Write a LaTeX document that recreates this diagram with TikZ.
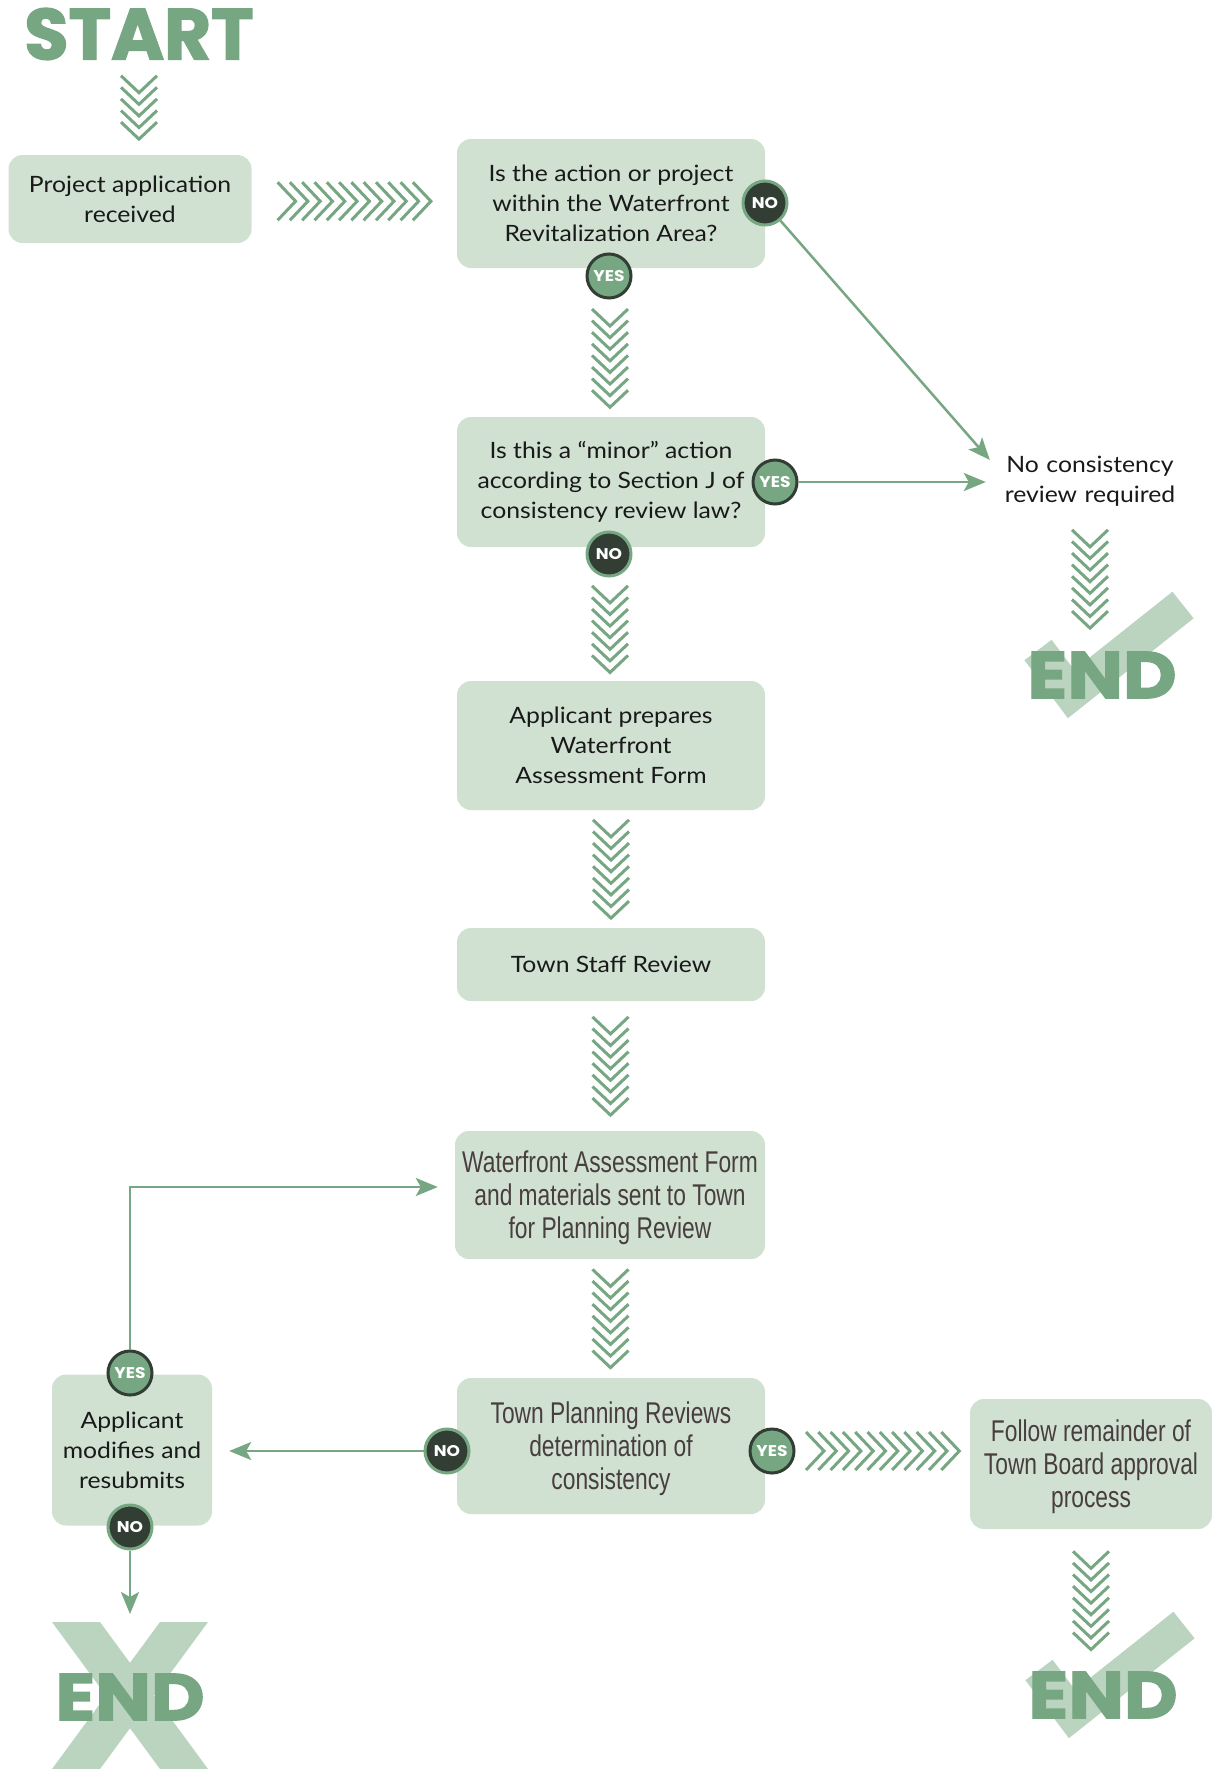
\documentclass[tikz,border=0pt]{standalone}
\usepackage{fontspec}
\setmainfont{Lato}[FakeStretch=1.1]
\newfontfamily\badgefont{Poppins}[FakeStretch=1.1]
\newfontfamily\heavyfont{Poppins}[BoldFeatures={FakeBold=2}]
\newfontfamily\endfont{Poppins}[FakeStretch=1.12, BoldFeatures={FakeBold=2}]
\newfontfamily\narrowfont{Liberation Sans}[FakeStretch=0.76]
\usetikzlibrary{arrows.meta,calc}

\definecolor{sage}{RGB}{208,225,209}
\definecolor{leaf}{RGB}{119,167,130}
\definecolor{pine}{RGB}{50,62,52}
\definecolor{mint}{RGB}{187,212,192}
\definecolor{ink}{RGB}{25,25,25}
\definecolor{slate}{RGB}{72,62,62}

\tikzset{
  stepbox/.style={fill=sage, rounded corners=14pt, align=center, text=ink, inner sep=0pt,
    font=\fontsize{22.5}{30}\selectfont},
  narrowbox/.style={stepbox, text=slate, text depth=0pt, font=\narrowfont\fontsize{30}{33}\selectfont},
  yesdot/.style={circle, minimum size=44pt, inner sep=0pt, fill=leaf, draw=pine, line width=3pt,
    text=white, font=\badgefont\bfseries\fontsize{15.5}{15.5}\selectfont},
  nodot/.style={yesdot, fill=pine, draw=leaf},
  flow/.style={leaf, line width=2.5pt, -{Stealth[length=22pt,width=18pt,inset=5pt]}},
  chev/.style={leaf, line width=3pt},
  band/.style={mint, line width=34pt},
  bigword/.style={text=leaf, inner sep=0pt, font=\endfont\bfseries\fontsize{66}{66}\selectfont},
  pics/chevdown/.style={code={
    \foreach \k in {1,...,#1}
      \draw[chev] (-18,{(\k-1)*11.6-((#1-1)*11.6+17)/2}) -- ++(18,17) -- ++(18,-17);
  }},
  pics/chevright/.style={code={
    \foreach \k in {1,...,#1}
      \draw[chev] ({(\k-1)*12.3-((#1-1)*12.3+18)/2},-19) -- ++(18,19) -- ++(-18,19);
  }},
}

\begin{document}
\begin{tikzpicture}[x=1pt,y=-1pt]
\useasboundingbox (0,0) rectangle (1212,1769);
\fill[white] (0,0) rectangle (1212,1769);

% end marks, drawn under their words
\coordinate (endac) at (1102,675);
\coordinate (endbc) at (1103,1695);
\coordinate (endxc) at (130,1697);
\draw[band] ([shift={(-64,-25)}]endac) -- ([shift={(-31,19)}]endac) -- ([shift={(81,-70)}]endac);
\draw[band] ([shift={(-64,-25)}]endbc) -- ([shift={(-31,19)}]endbc) -- ([shift={(81,-70)}]endbc);
\fill[mint] ([shift={(-78,-75)}]endxc) -- ([shift={(-30,-75)}]endxc) -- ([shift={(78,72)}]endxc) -- ([shift={(30,72)}]endxc) -- cycle;
\fill[mint] ([shift={(30,-75)}]endxc) -- ([shift={(78,-75)}]endxc) -- ([shift={(-30,72)}]endxc) -- ([shift={(-78,72)}]endxc) -- cycle;
\node[bigword] (enda) at (endac) {END};
\node[bigword] (endb) at (endbc) {END};
\node[bigword] (endx) at (endxc) {END};
\coordinate (xtop) at ([shift={(0,-83)}]endxc);

\node[bigword, font=\heavyfont\bfseries\fontsize{72}{72}\selectfont] (start) at (139,34) {START};

% boxes
\node[stepbox, minimum width=243pt, minimum height=88pt] (project) at (130,199) {Project application\\received};
\node[stepbox, minimum width=308pt, minimum height=129pt] (q1) at (611,203.5) {Is the action or project\\within the Waterfront\\Revitalization Area?};
\node[stepbox, minimum width=308pt, minimum height=130pt] (q2) at (611,482) {Is this a “minor” action\\according to Section J of\\consistency review law?};
\node[text=ink, align=center, text width=185pt, inner xsep=11.5pt, inner ysep=0pt,
  font=\fontsize{22.5}{30}\selectfont] (nocons) at (1090,481) {No consistency\\review required};
\node[stepbox, minimum width=308pt, minimum height=129pt] (prep) at (611,745.5) {Applicant prepares\\Waterfront\\Assessment Form};
\node[stepbox, minimum width=308pt, minimum height=73pt] (staff) at (611,964.5) {Town Staff Review};
\node[narrowbox, minimum width=310pt, minimum height=128pt] (waf) at (610,1195) {Waterfront Assessment Form\\and materials sent to Town\\for Planning Review};
\node[narrowbox, minimum width=308pt, minimum height=136pt] (plan) at (611,1446) {Town Planning Reviews\\determination of\\consistency};
\node[narrowbox, minimum width=242pt, minimum height=130pt] (board) at (1091,1464) {Follow remainder of\\Town Board approval\\process};
\node[stepbox, minimum width=160pt, minimum height=151pt] (modify) at (132,1450) {Applicant\\modifies and\\resubmits};

% yes / no badges
\node[nodot] (q1no) at (765,203) {NO};
\node[yesdot] (q1yes) at (609,276) {YES};
\node[yesdot] (q2yes) at (775,482) {YES};
\node[nodot] (q2no) at (609,554) {NO};
\node[nodot] (planno) at (447,1451) {NO};
\node[yesdot] (planyes) at (772,1451) {YES};
\node[yesdot] (modyes) at (130,1373) {YES};
\node[nodot] (modno) at (130,1527) {NO};

% chevron runs
\pic at ($(start.south)!0.5!(start.south |- project.north)$) {chevdown=5};
\pic at ($(project.east)!0.5!(q1.west)$) {chevright=12};
\pic at ($(q1yes.south)!0.5!(q2.north)$) {chevdown=8};
\pic at ($(q2no.south)!0.5!(prep.north)$) {chevdown=7};
\pic at ($(prep.south)!0.5!(staff.north)$) {chevdown=8};
\pic at ($(staff.south)!0.5!(waf.north)$) {chevdown=8};
\pic at ($(waf.south)!0.5!(plan.north)$) {chevdown=8};
\pic at ($(planyes.east)!0.5!(board.west |- planyes)$) {chevright=12};
\pic at ($(nocons.south)!0.5!(nocons.south |- enda.north)$) {chevdown=8};
\pic at ($(board.south)!0.5!(board.south |- endb.north)$) {chevdown=8};

% arrows
\draw[flow] (q1no) -- ($(nocons.west)+(4,-21)$);
\draw[flow] (q2yes) -- (nocons.west |- q2yes);
\draw[flow] (planno) -- ($(modify.east |- planno)+(17,0)$);
\draw[flow] (modyes) |- ($(waf.west)+(-17,-8)$);
\draw[flow] (modno) -- (xtop);
\end{tikzpicture}
\end{document}
